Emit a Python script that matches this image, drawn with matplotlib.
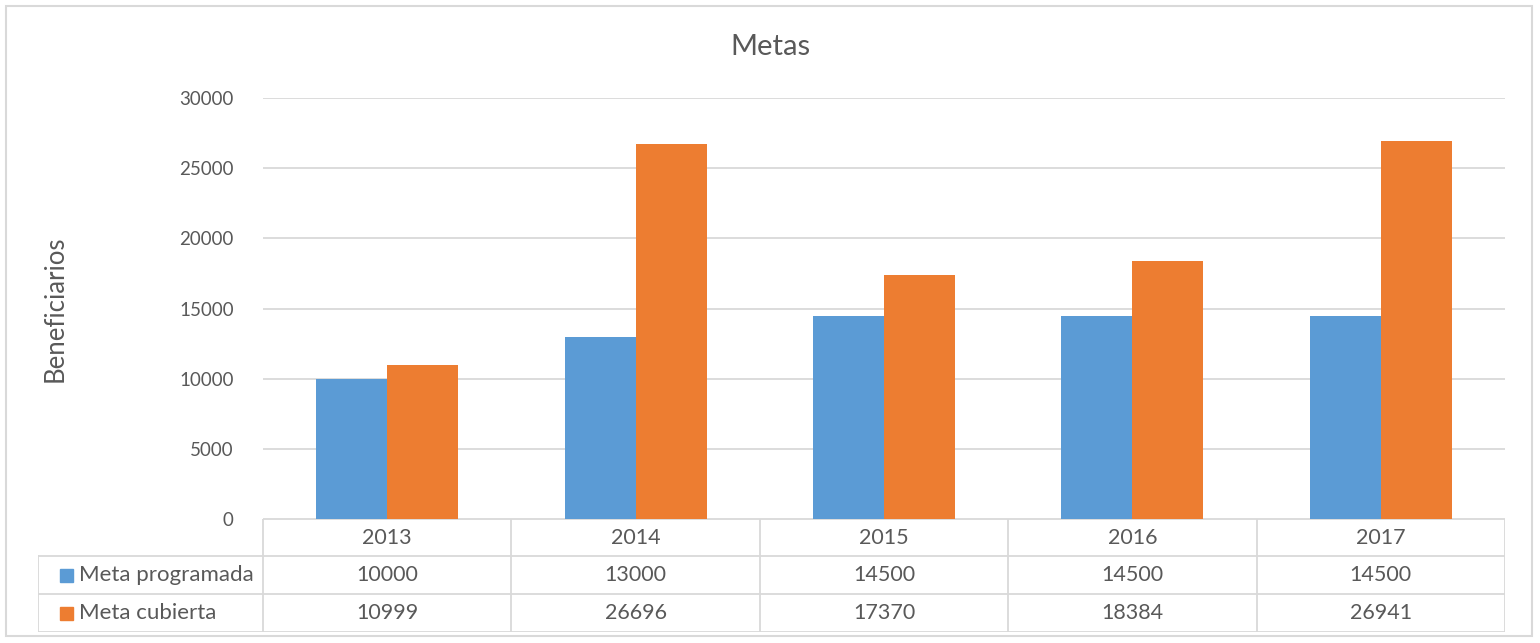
import numpy as np
import matplotlib.pyplot as plt
from matplotlib.patches import Rectangle

years = ['2013', '2014', '2015', '2016', '2017']
meta_programada = [10000, 13000, 14500, 14500, 14500]
meta_cubierta = [10999, 26696, 17370, 18384, 26941]
series_names = ['Meta programada', 'Meta cubierta']
colors = ['#5B9BD5', '#ED7D31']
text_color = '#595959'
grid_color = '#D9D9D9'

plt.rcParams['font.family'] = ['Lato', 'DejaVu Sans']

W, H = 1540, 643
fig = plt.figure(figsize=(W / 100, H / 100), dpi=100)

# pixel layout helpers
def fx(px):
    return px / W

def fy(py):
    return 1 - py / H

# outer border
fig.patches.append(Rectangle((fx(6), fy(636)), fx(1532) - fx(6), fy(6) - fy(636),
                             transform=fig.transFigure, fill=False,
                             edgecolor=grid_color, linewidth=1.5))

# plot area
left, right, top, bottom = 263, 1505, 98, 519
ax = fig.add_axes([fx(left), fy(bottom), fx(right) - fx(left), fy(top) - fy(bottom)])
x = np.arange(len(years))
bw = 0.286
ax.bar(x - bw / 2, meta_programada, bw, color=colors[0], zorder=3)
ax.bar(x + bw / 2, meta_cubierta, bw, color=colors[1], zorder=3)
ax.set_xlim(-0.5, len(years) - 0.5)
ax.set_ylim(0, 30000)
ax.set_yticks(range(0, 30001, 5000))
ax.yaxis.grid(True, color=grid_color, linewidth=1.3, zorder=0)
ax.set_xticks([])
for s in ['top', 'right', 'left', 'bottom']:
    ax.spines[s].set_visible(False)
ax.tick_params(axis='y', length=0, pad=21, labelsize=13.5, labelcolor=text_color)
ax.set_ylabel('Beneficiarios', fontsize=18.5, color=text_color, labelpad=0)
ax.yaxis.set_label_coords(-(left - 68) / (right - left), 0.5)

fig.text(0.5, fy(47), 'Metas', ha='center', va='center', fontsize=21, color=text_color)

# data table below the axis
unit = (right - left) / len(years)
tleft = 38
tax = fig.add_axes([fx(tleft), fy(632), fx(right) - fx(tleft), fy(519) - fy(632)])
tax.set_xlim(-0.5 - (left - tleft) / unit, len(years) - 0.5)
tax.set_ylim(632, 519)
tax.axis('off')
row_lines = [519, 556, 594, 632]
lw = 1.3
# horizontal lines
tax.plot([-0.5, len(years) - 0.5], [row_lines[0]] * 2, color=grid_color, lw=lw)
for yy in row_lines[1:]:
    tax.plot([tax.get_xlim()[0], len(years) - 0.5], [yy] * 2, color=grid_color, lw=lw)
# vertical lines
for i in range(len(years) + 1):
    tax.plot([i - 0.5] * 2, [row_lines[0], row_lines[-1]], color=grid_color, lw=lw)
tax.plot([tax.get_xlim()[0]] * 2, [row_lines[1], row_lines[-1]], color=grid_color, lw=lw)

for i, yr in enumerate(years):
    yc = (row_lines[0] + row_lines[1]) / 2
    tax.text(i, yc, yr, ha='center', va='center', fontsize=15.5, color=text_color)
for r, (vals, name, c) in enumerate(zip([meta_programada, meta_cubierta], series_names, colors)):
    yc = (row_lines[r + 1] + row_lines[r + 2]) / 2
    for i, v in enumerate(vals):
        tax.text(i, yc, str(v), ha='center', va='center', fontsize=15.5, color=text_color)
    x0 = tax.get_xlim()[0] + 22 / unit
    tax.add_patch(Rectangle((x0, yc - 6.5), 13 / unit, 13, color=c, clip_on=False))
    tax.text(x0 + 19 / unit, yc, name, ha='left', va='center', fontsize=16, color=text_color)

fig.savefig('out.png', dpi=100)
